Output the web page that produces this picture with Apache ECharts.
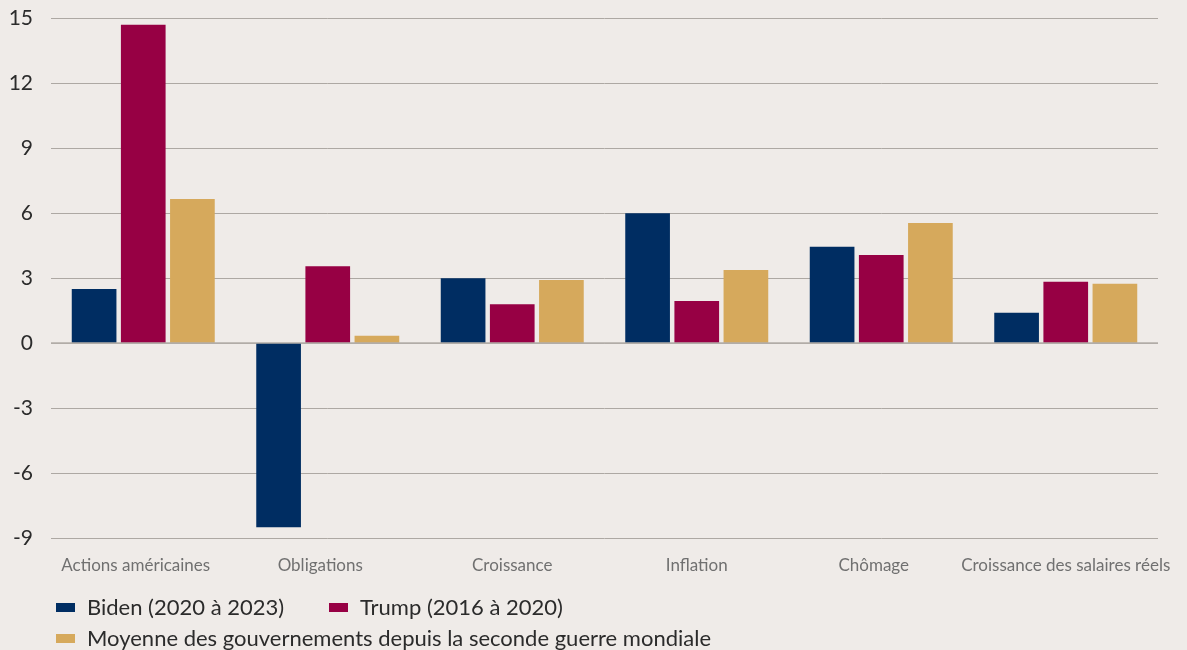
<!DOCTYPE html>
<html>
<head>
<meta charset="utf-8">
<style>
  html, body { margin: 0; padding: 0; background: #EFEBE8; }
  #chart { width: 1187px; height: 650px; }
</style>
<script src="https://cdn.jsdelivr.net/npm/echarts@6/dist/echarts.min.js"></script>
</head>
<body>
<div id="chart"></div>
<script>
// Indicateurs économiques par administration
const categories = ['Actions américaines', 'Obligations', 'Croissance', 'Inflation', 'Chômage', 'Croissance des salaires réels'];
const seriesNames = ['Biden (2020 à 2023)', 'Trump (2016 à 2020)', 'Moyenne des gouvernements depuis la seconde guerre mondiale'];
const biden   = [2.5, -8.5, 3.0, 6.0, 4.45, 1.4];
const trump   = [14.7, 3.55, 1.8, 1.95, 4.07, 2.83];
const moyenne = [6.65, 0.34, 2.92, 3.38, 5.55, 2.74];
const yTicks = { min: -9, max: 15, interval: 3 };

const colors = ['#002D62', '#970044', '#D6A95C'];
const font = 'Lato, "Noto Sans", sans-serif';

// some category labels sit slightly left of their bar group
const leftShifted = new Set(['Actions américaines', 'Obligations', 'Chômage']);

const chart = echarts.init(document.getElementById('chart'), null, { renderer: 'canvas' });

function legendAt(name, left, top, spacing) {
  return {
    data: [name],
    left: left,
    top: top,
    padding: 0,
    icon: 'rect',
    itemWidth: 19,
    itemHeight: 9,
    selectedMode: false,
    textStyle: { fontFamily: font, fontSize: 22, color: '#2b2b2b', padding: [0, 0, 0, 7], lineHeight: 24, letterSpacing: spacing || 0 }
  };
}

const option = {
  backgroundColor: '#EFEBE8',
  color: colors,
  animation: false,
  grid: { left: 51, right: 29, top: 18.3, bottom: 112, containLabel: false },
  legend: [
    legendAt(seriesNames[0], 56, 595.5),
    legendAt(seriesNames[1], 329, 595.5),
    legendAt(seriesNames[2], 56, 626.5, 0.4)
  ],
  xAxis: {
    type: 'category',
    data: categories,
    axisLine: { show: false, onZero: false },
    axisTick: { show: false },
    axisLabel: {
      fontFamily: font, fontSize: 17, color: '#707070', margin: 19, interval: 0,
      formatter: v => leftShifted.has(v) ? '{s|' + v + '}' : v,
      rich: { s: { fontFamily: font, fontSize: 17, color: '#707070', padding: [0, 15, 0, 0] } }
    }
  },
  yAxis: {
    type: 'value',
    min: yTicks.min,
    max: yTicks.max,
    interval: yTicks.interval,
    axisLine: { show: false },
    axisTick: { show: false },
    axisLabel: { fontFamily: font, fontSize: 21, color: '#2b2b2b', margin: 18 },
    splitLine: { lineStyle: { color: '#ADA8A3', width: 1 } }
  },
  series: [
    {
      name: seriesNames[0], type: 'bar', data: biden,
      barGap: '10%', barCategoryGap: '22.5%',
      markLine: {
        silent: true, symbol: 'none', label: { show: false },
        lineStyle: { color: '#B3AEA9', width: 1.6, type: 'solid' },
        data: [{ yAxis: 0 }]
      }
    },
    { name: seriesNames[1], type: 'bar', data: trump, barGap: '10%', barCategoryGap: '22.5%' },
    { name: seriesNames[2], type: 'bar', data: moyenne, barGap: '10%', barCategoryGap: '22.5%' }
  ]
};

chart.setOption(option);
</script>
</body>
</html>
